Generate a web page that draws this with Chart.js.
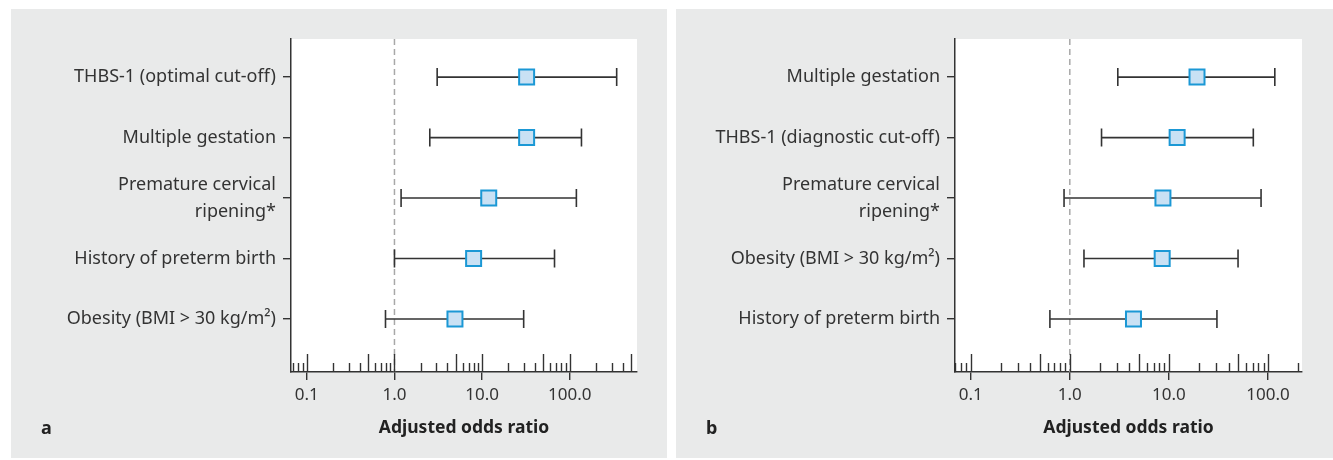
<!DOCTYPE html>
<html lang="en">
<head>
    <meta charset="UTF-8">
    <title>Adjusted odds ratios - forest plots</title>
    <script src="https://cdn.jsdelivr.net/npm/chart.js"></script>
    <style>
        body { margin: 0; background: #fff; font-family: "Noto Sans", sans-serif; }
        .panel { position: absolute; top: 9px; height: 449px; background: #e9eaea; }
        .panel canvas { position: absolute; left: 0; top: 0; }
        .letter { position: absolute; top: 406px; font: bold 18px "Noto Sans", sans-serif; color: #222; }
    </style>
</head>
<body>
    <div class="panel" id="panelA" style="left: 11px; width: 656px;">
        <canvas id="chartA"></canvas>
        <div class="letter" style="left: 30px;">a</div>
    </div>
    <div class="panel" id="panelB" style="left: 676px; width: 657px;">
        <canvas id="chartB"></canvas>
        <div class="letter" style="left: 30px;">b</div>
    </div>

    <script>
        // panel a
        var labelsA = ['THBS-1 (optimal cut-off)', 'Multiple gestation', ['Premature cervical', 'ripening*'], 'History of preterm birth', 'Obesity (BMI > 30 kg/m²)'];
        var oddsA = [32.2, 32.2, 11.9, 8.0, 4.9];
        var lowA = [3.07, 2.53, 1.19, 1.0, 0.79];
        var highA = [343, 136, 119, 67, 29.8];

        // panel b
        var labelsB = ['Multiple gestation', 'THBS-1 (diagnostic cut-off)', ['Premature cervical', 'ripening*'], 'Obesity (BMI > 30 kg/m²)', 'History of preterm birth'];
        var oddsB = [19.2, 12.1, 8.7, 8.55, 4.39];
        var lowB = [3.05, 2.09, 0.875, 1.39, 0.63];
        var highB = [117, 71, 85, 49.8, 30.5];

        // x axis ticks
        var majorTicks = [0.1, 1, 10, 100];
        var midTicks = [0.5, 5, 50, 500];
        var minorTicks = [0.07, 0.08, 0.09, 0.2, 0.3, 0.4, 0.6, 0.7, 0.8, 0.9,
                          2, 3, 4, 6, 7, 8, 9, 20, 30, 40, 60, 70, 80, 90, 200, 300, 400];

        var forestPlugin = {
            id: 'forest',
            beforeDraw: function(chart) {
                var ctx = chart.ctx, a = chart.chartArea;
                ctx.save();
                ctx.fillStyle = '#ffffff';
                ctx.fillRect(a.left, a.top, a.right - a.left, a.bottom - a.top);
                ctx.restore();
            },
            beforeDatasetsDraw: function(chart, args, opts) {
                var ctx = chart.ctx, a = chart.chartArea;
                var x = chart.scales.x, y = chart.scales.y;
                ctx.save();
                // reference line at OR = 1
                var x1 = x.getPixelForValue(1);
                ctx.strokeStyle = '#a8a8a8';
                ctx.lineWidth = 1.5;
                ctx.setLineDash([6, 4]);
                ctx.beginPath();
                ctx.moveTo(x1, a.top);
                ctx.lineTo(x1, a.bottom);
                ctx.stroke();
                ctx.setLineDash([]);
                // confidence intervals
                ctx.strokeStyle = '#333333';
                ctx.lineWidth = 1.6;
                for (var i = 0; i < opts.low.length; i++) {
                    var py = y.getPixelForValue(i);
                    var pl = x.getPixelForValue(opts.low[i]);
                    var ph = x.getPixelForValue(opts.high[i]);
                    ctx.beginPath();
                    ctx.moveTo(pl, py); ctx.lineTo(ph, py);
                    ctx.moveTo(pl, py - 9); ctx.lineTo(pl, py + 9);
                    ctx.moveTo(ph, py - 9); ctx.lineTo(ph, py + 9);
                    ctx.stroke();
                }
                ctx.restore();
            },
            afterDraw: function(chart) {
                var ctx = chart.ctx, a = chart.chartArea, x = chart.scales.x;
                ctx.save();
                ctx.strokeStyle = '#333333';
                ctx.lineWidth = 1.4;
                function marks(list, len) {
                    list.forEach(function(v) {
                        if (v < x.min || v > x.max) return;
                        var px = Math.round(x.getPixelForValue(v)) + 0.5;
                        ctx.beginPath();
                        ctx.moveTo(px, a.bottom);
                        ctx.lineTo(px, a.bottom - len);
                        ctx.stroke();
                    });
                }
                marks(majorTicks, 18);
                marks(midTicks, 18);
                marks(minorTicks, 9);
                ctx.restore();
            }
        };

        function makeChart(id, labels, odds, low, high, xMin, xMax, yWidth, rightPad) {
            var points = odds.map(function(v, i) { return { x: v, y: i }; });
            return new Chart(document.getElementById(id), {
                type: 'scatter',
                data: {
                    datasets: [{
                        data: points,
                        pointStyle: 'rect',
                        pointRadius: 10.6,
                        backgroundColor: '#c9e1f4',
                        borderColor: '#1b98d5',
                        borderWidth: 2
                    }]
                },
                options: {
                    responsive: true,
                    maintainAspectRatio: false,
                    animation: false,
                    events: [],
                    layout: { padding: { left: 0, right: rightPad, top: 30, bottom: 0 } },
                    plugins: {
                        legend: { display: false },
                        tooltip: { enabled: false },
                        forest: { low: low, high: high }
                    },
                    scales: {
                        x: {
                            type: 'logarithmic',
                            min: xMin,
                            max: xMax,
                            afterBuildTicks: function(axis) {
                                axis.ticks = majorTicks.map(function(v) { return { value: v }; });
                            },
                            afterFit: function(axis) { axis.height = 86; },
                            border: { display: true, color: '#333333', width: 1.5 },
                            grid: { drawOnChartArea: false, drawTicks: true, tickLength: 8, color: '#333333', lineWidth: 1.4 },
                            ticks: {
                                autoSkip: false,
                                maxRotation: 0,
                                padding: 5,
                                color: '#333333',
                                font: { family: 'Noto Sans', size: 17 },
                                callback: function(v) { return Number(v).toFixed(1); }
                            },
                            title: {
                                display: true,
                                text: 'Adjusted odds ratio',
                                color: '#222222',
                                font: { family: 'Noto Sans', size: 17.5, weight: 'bold' },
                                padding: { top: 0, bottom: 19 }
                            }
                        },
                        y: {
                            type: 'linear',
                            reverse: true,
                            min: -0.63,
                            max: 4.876,
                            afterBuildTicks: function(axis) {
                                axis.ticks = labels.map(function(_, i) { return { value: i }; });
                            },
                            afterFit: function(axis) { axis.width = yWidth; },
                            border: { display: true, color: '#333333', width: 1.5 },
                            grid: { drawOnChartArea: false, drawTicks: true, tickLength: 8, color: '#333333', lineWidth: 1.4 },
                            ticks: {
                                padding: 7,
                                color: '#333333',
                                font: { family: 'Noto Sans', size: 18, lineHeight: 1.5 },
                                callback: function(v) { return labels[v]; }
                            }
                        }
                    }
                },
                plugins: [forestPlugin]
            });
        }

        makeChart('chartA', labelsA, oddsA, lowA, highA, 0.066, 585, 280, 30);
        makeChart('chartB', labelsB, oddsB, lowB, highB, 0.0695, 220, 279, 31);
    </script>
</body>
</html>
